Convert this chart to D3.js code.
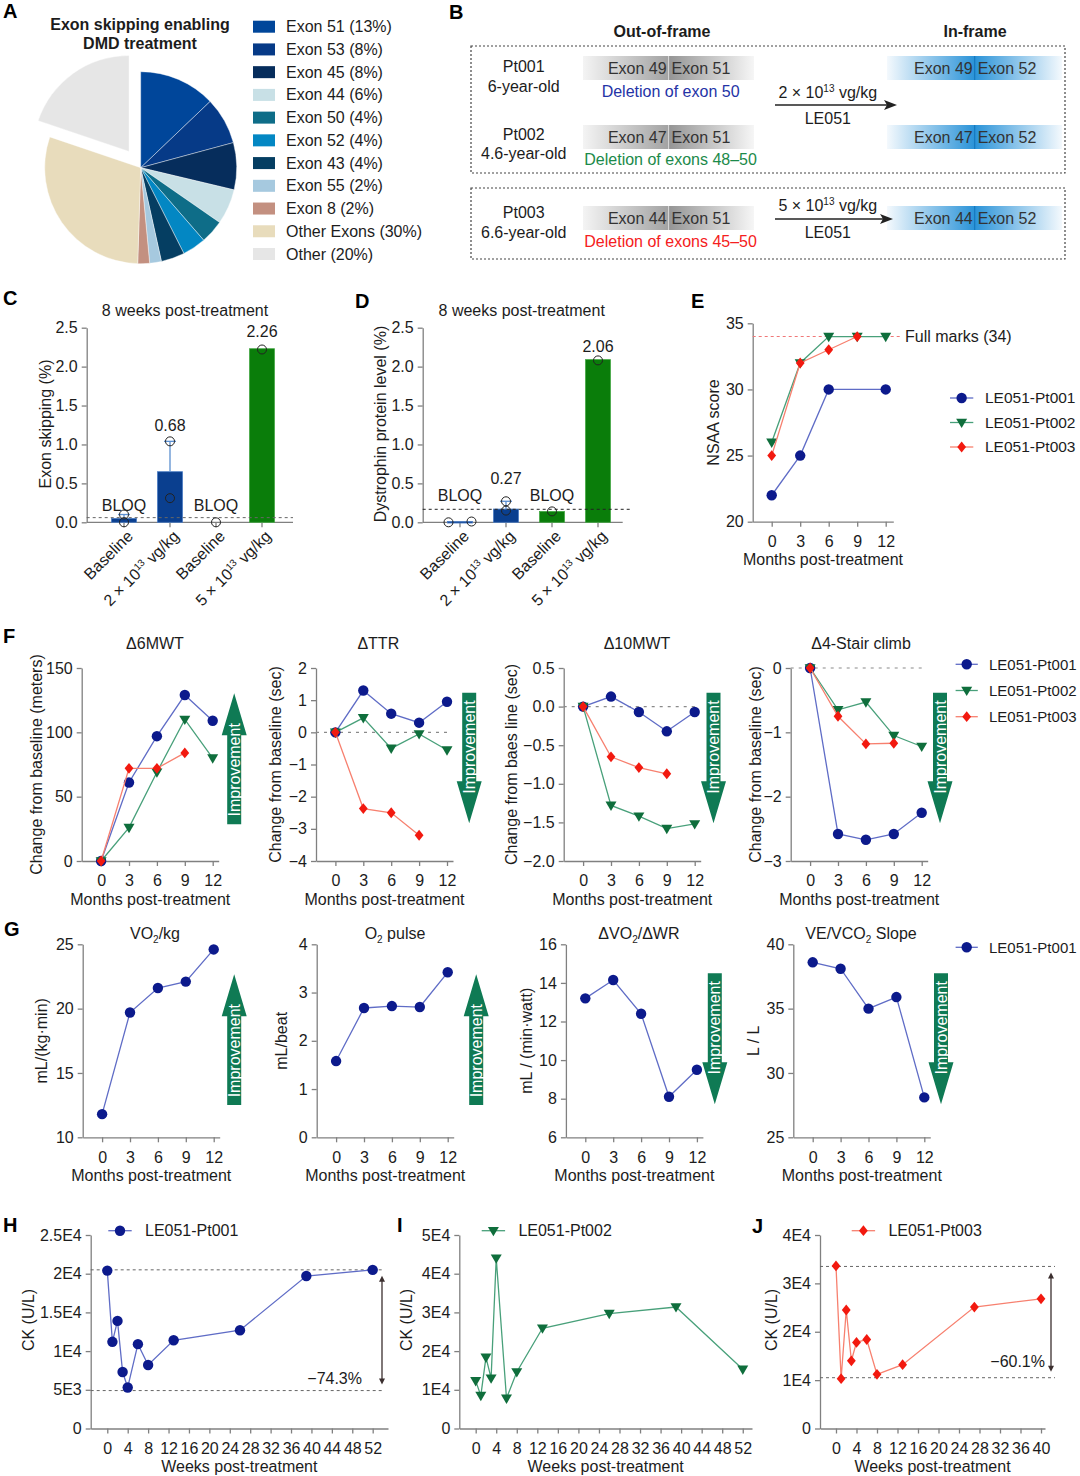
<!DOCTYPE html>
<html>
<head>
<meta charset="utf-8">
<script src="https://cdn.jsdelivr.net/npm/d3@7"></script>
<style>
  body { margin: 0; background: #fff; }
  svg { display: block; font-family: "Liberation Sans", Arial, Helvetica, sans-serif; }
</style>
</head>
<body>
<svg id="fig" width="1080" height="1476"></svg>
<script>
// ---------------- data ----------------
const pieLabels = ['Exon 51 (13%)', 'Exon 53 (8%)', 'Exon 45 (8%)', 'Exon 44 (6%)', 'Exon 50 (4%)',
  'Exon 52 (4%)', 'Exon 43 (4%)', 'Exon 55 (2%)', 'Exon 8 (2%)', 'Other Exons (30%)', 'Other (20%)'];
const pieValues = [13, 8, 8, 6, 4, 4, 4, 2, 2, 30, 20];

const patientIds = ['Pt001', 'Pt002', 'Pt003'];
const patientAges = ['6-year-old', '4.6-year-old', '6.6-year-old'];
const outFrameExons = [['Exon 49', 'Exon 51'], ['Exon 47', 'Exon 51'], ['Exon 44', 'Exon 51']];
const inFrameExons = [['Exon 49', 'Exon 52'], ['Exon 47', 'Exon 52'], ['Exon 44', 'Exon 52']];
const deletions = ['Deletion of exon 50', 'Deletion of exons 48–50', 'Deletion of exons 45–50'];
const doseCoef = ['2', '5'];

const barGroups = ['Baseline', '2', 'Baseline', '5'];
const skipBars = [0.05, 0.65, null, 2.23];
const skipDots = [[0.10, 0.0], [1.04, 0.31], [0.0], [2.22]];
const skipText = ['BLOQ', '0.68', 'BLOQ', '2.26'];
const skipLloq = 0.06;
const dysBars = [0.01, 0.17, 0.14, 2.09];
const dysDots = [[0.0, 0.01], [0.27, 0.15], [0.14], [2.08]];
const dysText = ['BLOQ', '0.27', 'BLOQ', '2.06'];
const dysLloq = 0.167;

const patients = ['LE051-Pt001', 'LE051-Pt002', 'LE051-Pt003'];
const months = [0, 3, 6, 9, 12];
const nsaa001 = [22, 25, 30, null, 30];
const nsaa002 = [26, 32, 34, 34, 34];
const nsaa003 = [25, 32, 33, 34, null];
const nsaaFull = 34;

const mwt6_001 = [0, 61, 97, 129, 109];
const mwt6_002 = [0, 26, 69, 110, 80];
const mwt6_003 = [0, 72, 72, 84, null];
const ttr001 = [0, 1.3, 0.58, 0.3, 0.95];
const ttr002 = [0, 0.45, -0.5, -0.05, -0.55];
const ttr003 = [0, -2.37, -2.5, -3.2, null];
const mwt10_001 = [0, 0.13, -0.07, -0.32, -0.07];
const mwt10_002 = [0, -1.28, -1.42, -1.58, -1.52];
const mwt10_003 = [0, -0.65, -0.79, -0.87, null];
const stair001 = [0, -2.58, -2.67, -2.58, -2.25];
const stair002 = [0, -0.65, -0.53, -1.05, -1.22];
const stair003 = [0, -0.75, -1.18, -1.17, null];

const vo2kg = [11.8, 19.7, 21.6, 22.1, 24.6];
const o2pulse = [1.58, 2.68, 2.72, 2.7, 3.42];
const vo2wr = [13.2, 14.15, 12.4, 8.1, 9.5];
const vevco2 = [38.6, 38.1, 35.0, 35.9, 28.1];

const ckWeeks001 = [0, 1, 2, 3, 4, 6, 8, 13, 26, 39, 52];
const ck001 = [20400, 11200, 13900, 7300, 5300, 10900, 8200, 11400, 12700, 19700, 20500];
const ckWeeks002 = [0, 1, 2, 3, 4, 6, 8, 13, 26, 39, 52];
const ck002 = [12300, 8500, 18400, 13000, 44000, 7800, 14600, 25900, 29700, 31400, 15300];
const ckWeeks003 = [0, 1, 2, 3, 4, 6, 8, 13, 27, 40];
const ck003 = [33600, 10300, 24500, 14000, 17800, 18400, 11200, 13200, 25100, 26800];
const ckRange001 = [20500, 4900];
const ckRange003 = [33500, 10500];
const ckDrop = ['−74.3%', '−60.1%'];

const weekTicks52 = d3.range(0, 53, 4);
const weekTicks40 = d3.range(0, 41, 4);
const ckTicksH = [0, 5000, 10000, 15000, 20000, 25000];
const ckLabelsH = ['0', '5E3', '1E4', '1.5E4', '2E4', '2.5E4'];
const ckTicksI = [0, 10000, 20000, 30000, 40000, 50000];
const ckLabelsI = ['0', '1E4', '2E4', '3E4', '4E4', '5E4'];
const ckTicksJ = [0, 10000, 20000, 30000, 40000];
const ckLabelsJ = ['0', '1E4', '2E4', '3E4', '4E4'];

// ---------------- styles ----------------
const INK = '#1c1c1c';
const AXIS = '#808080';
const ARROW_GREEN = '#0f7a54';
const pieColors = ['#00469a', '#063a87', '#062d5c', '#c8e0e6', '#0e6d88', '#0387c3',
  '#053e62', '#a6c9df', '#c39080', '#e8dcbc', '#e6e6e6'];
const ptStyles = [
  { marker: '#0c1a8c', line: '#5f6cc6', shape: 'circle' },
  { marker: '#0f6e3c', line: '#48a07a', shape: 'tri' },
  { marker: '#f2190f', line: '#f7806f', shape: 'diamond' }
];

const svg = d3.select('#fig');
svg.append('rect').attr('width', 1080).attr('height', 1476).attr('fill', '#fff');

// text with optional sub / superscript pieces
function rich(g, x, y, segs, o = {}) {
  const size = o.size || 16;
  const t = g.append('text').attr('x', x).attr('y', y)
    .attr('text-anchor', o.anchor || 'middle')
    .attr('font-size', size).attr('fill', o.fill || INK);
  if (o.rotate != null) t.attr('transform', `rotate(${o.rotate},${x},${y})`);
  if (o.bold) t.attr('font-weight', 'bold');
  let prev = 0;
  segs.forEach((s, i) => {
    const seg = typeof s === 'string' ? { t: s } : s;
    const want = seg.sub ? 4 : seg.sup ? -6 : 0;
    const base = i === 0 ? (o.baseline ? 0 : size * 0.35) : 0;
    t.append('tspan').attr('dy', base + want - prev)
      .attr('font-size', seg.sub || seg.sup ? 10 : null).text(seg.t);
    prev = want;
  });
  return t;
}

function markerPath(shape) {
  if (shape === 'circle') return d3.symbol(d3.symbolCircle, Math.PI * 5.2 * 5.2)();
  if (shape === 'tri') return 'M-5.5,-3.8L5.5,-3.8L0,5.6Z';
  return 'M0,-5.4L4.4,0L0,5.4L-4.4,0Z';
}

function styleAxis(sel) {
  sel.attr('font-size', 16).attr('font-family', null).attr('color', AXIS);
  sel.selectAll('text').attr('fill', INK);
  sel.selectAll('.domain, .tick line').attr('stroke-width', 1.3);
}

function drawSeries(g, x, y, xs, vals, st) {
  const pts = xs.map((m, i) => [m, vals[i]]).filter(d => d[1] != null);
  g.append('path').datum(pts)
    .attr('d', d3.line().x(d => x(d[0])).y(d => y(d[1])))
    .attr('fill', 'none').attr('stroke', st.line).attr('stroke-width', 1.3);
  g.selectAll(null).data(pts).join('path')
    .attr('transform', d => `translate(${x(d[0])},${y(d[1])})`)
    .attr('d', markerPath(st.shape)).attr('fill', st.marker);
}

function legendEntry(g, x1, x2, y, tx, st, label, size) {
  g.append('line').attr('x1', x1).attr('x2', x2).attr('y1', y).attr('y2', y)
    .attr('stroke', st.line).attr('stroke-width', 1.3);
  g.append('path').attr('transform', `translate(${(x1 + x2) / 2},${y})`)
    .attr('d', markerPath(st.shape)).attr('fill', st.marker);
  rich(g, tx, y, [label], { anchor: 'start', size: size || 16 });
}

function improveArrow(cx, yTail, yTip) {
  const dir = yTip < yTail ? -1 : 1;
  const headLen = 42, sw = 7, hw = 12.5;
  const yBase = yTip - dir * headLen;
  const d = `M${cx - sw},${yTail}L${cx - sw},${yBase}L${cx - hw},${yBase}L${cx},${yTip}` +
    `L${cx + hw},${yBase}L${cx + sw},${yBase}L${cx + sw},${yTail}Z`;
  svg.append('path').attr('d', d).attr('fill', ARROW_GREEN);
  const cy = (yTail + yTip) / 2 - dir * 11;
  rich(svg, cx, cy, ['Improvement'], { rotate: -90, fill: '#fff' });
}

function linePanel(p) {
  const g = svg.append('g');
  const x = d3.scaleLinear().domain(p.xDomain).range([p.left, p.right]);
  const y = d3.scaleLinear().domain(p.yDomain).range([p.bottom, p.top]);
  const ya = d3.axisLeft(y).tickValues(p.yTicks).tickSize(5).tickPadding(4).tickSizeOuter(0)
    .tickFormat(p.yFormat || d3.format('d'));
  const xa = d3.axisBottom(x).tickValues(p.xTicks).tickSize(5).tickPadding(9).tickSizeOuter(0)
    .tickFormat(d3.format('d'));
  styleAxis(g.append('g').attr('transform', `translate(${p.left},0)`).call(ya));
  styleAxis(g.append('g').attr('transform', `translate(0,${p.bottom})`).call(xa));
  if (p.zero) {
    g.append('line').attr('x1', p.left).attr('x2', p.right - 3).attr('y1', y(0)).attr('y2', y(0))
      .attr('stroke', '#8a8a8a').attr('stroke-width', 1.2).attr('stroke-dasharray', '3,5');
  }
  p.series.forEach(s => drawSeries(g, x, y, s.xs, s.vals, s.st));
  if (p.title) rich(g, p.titleX, p.titleY, p.title);
  rich(g, (p.left + p.right) / 2, p.bottom + 38, [p.xTitle || 'Months post-treatment']);
  rich(g, p.ylabelX, p.ylabelY || (p.top + p.bottom) / 2, [p.ylabel], { rotate: -90 });
  return { g, x, y };
}

// ---------------- panel letters ----------------
[['A', 3, 18.3], ['B', 449, 19.3], ['C', 3, 305], ['D', 355, 308], ['E', 691, 308],
 ['F', 3, 643], ['G', 4, 935.7], ['H', 3, 1231.7], ['I', 397, 1231.7], ['J', 752, 1232.7]]
  .forEach(([s, x, y]) => rich(svg, x, y, [s], { anchor: 'start', bold: true, size: 20, baseline: true, fill: '#000' }));

// ---------------- A: pie ----------------
{
  const g = svg.append('g');
  rich(g, 140, 24, ['Exon skipping enabling'], { bold: true });
  rich(g, 140, 43, ['DMD treatment'], { bold: true });
  const pg = g.append('g').attr('transform', 'translate(140.7,167.7)');
  const arcs = d3.pie().sort(null).value(d => d)(pieValues);
  const arc = d3.arc().innerRadius(0).outerRadius(96);
  pg.selectAll('path').data(arcs).join('path')
    .attr('d', arc)
    .attr('fill', (d, i) => pieColors[i])
    .attr('stroke', '#fff').attr('stroke-width', 0.4)
    .attr('transform', (d, i) => {
      if (i !== pieValues.length - 1) return null;
      const mid = (d.startAngle + d.endAngle) / 2;
      return `translate(${20 * Math.sin(mid)},${-20 * Math.cos(mid)})`;
    });
  const lg = g.append('g');
  pieLabels.forEach((lab, i) => {
    const yy = 26.7 + i * 22.73;
    lg.append('rect').attr('x', 253).attr('y', yy - 6).attr('width', 22).attr('height', 12).attr('fill', pieColors[i]);
    rich(lg, 286, yy, [lab], { anchor: 'start' });
  });
}

// ---------------- B: schematic ----------------
{
  const g = svg.append('g');
  const defs = svg.append('defs');
  const grad = (id, c0, c1) => {
    const lg = defs.append('linearGradient').attr('id', id).attr('x1', 0).attr('x2', 1).attr('y1', 0).attr('y2', 0);
    lg.append('stop').attr('offset', 0).attr('stop-color', c0);
    lg.append('stop').attr('offset', 1).attr('stop-color', c1);
  };
  grad('greyL', '#f4f4f4', '#a2a2a2');
  grad('greyR', '#949494', '#f6f6f6');
  grad('blueL', '#f4f9fd', '#2a93d8');
  grad('blueR', '#2a93d8', '#f4f9fd');

  rich(g, 662, 31.7, ['Out-of-frame'], { bold: true });
  rich(g, 975, 31.7, ['In-frame'], { bold: true });
  g.append('rect').attr('x', 471).attr('y', 46).attr('width', 594).attr('height', 127)
    .attr('fill', 'none').attr('stroke', '#444').attr('stroke-width', 1.2).attr('stroke-dasharray', '2,2');
  g.append('rect').attr('x', 471).attr('y', 188).attr('width', 594).attr('height', 71)
    .attr('fill', 'none').attr('stroke', '#444').attr('stroke-width', 1.2).attr('stroke-dasharray', '2,2');

  const rowY = [68, 137, 218];
  const ptY = [[66, 86], [134, 153.3], [212.3, 232.3]];
  const delY = [91, 159.3, 241];
  const delColors = ['#2433a6', '#1b8a4a', '#f52020'];
  const greyBox = { l: 583, m: 668.6, r: 754 };
  const blueBox = { l: 887, m: 974.7, r: 1062 };

  rowY.forEach((cy, i) => {
    rich(g, 523.7, ptY[i][0], [patientIds[i]]);
    rich(g, 523.7, ptY[i][1], [patientAges[i]]);
    [[greyBox, 'greyL', 'greyR', '#d8d8d8', outFrameExons[i]], [blueBox, 'blueL', 'blueR', '#0a6fb8', inFrameExons[i]]]
      .forEach(([b, gl, gr, div, labs]) => {
        g.append('rect').attr('x', b.l).attr('y', cy - 12).attr('width', b.m - b.l).attr('height', 24).attr('fill', `url(#${gl})`);
        g.append('rect').attr('x', b.m).attr('y', cy - 12).attr('width', b.r - b.m).attr('height', 24).attr('fill', `url(#${gr})`);
        g.append('line').attr('x1', b.m).attr('x2', b.m).attr('y1', cy - 12).attr('y2', cy + 12).attr('stroke', div).attr('stroke-width', 1);
        rich(g, b.m - 2, cy, [labs[0]], { anchor: 'end', fill: '#333' });
        rich(g, b.m + 3, cy, [labs[1]], { anchor: 'start', fill: '#333' });
      });
    rich(g, 670.6, delY[i], [deletions[i]], { fill: delColors[i] });
  });

  const arrows = [{ y: 105, x2: 897, ty: 92, ly: 118, dose: doseCoef[0] },
                  { y: 219, x2: 893, ty: 205, ly: 232, dose: doseCoef[1] }];
  arrows.forEach(a => {
    g.append('line').attr('x1', 775).attr('x2', a.x2 - 8).attr('y1', a.y).attr('y2', a.y).attr('stroke', '#222').attr('stroke-width', 1.4);
    g.append('path').attr('d', `M${a.x2},${a.y}L${a.x2 - 13},${a.y - 5}L${a.x2 - 10},${a.y}L${a.x2 - 13},${a.y + 5}Z`).attr('fill', '#222');
    rich(g, 827.8, a.ty, [`${a.dose} × 10`, { t: '13', sup: true }, ' vg/kg']);
    rich(g, 827.8, a.ly, ['LE051']);
  });
}

// ---------------- C / D: bars ----------------
function barPanel(c) {
  const g = svg.append('g');
  const y = d3.scaleLinear().domain([0, 2.5]).range([522.3, 327.7]);
  const x = d3.scalePoint().domain(d3.range(barGroups.length)).range([c.left + 37.3, c.left + 175.3]);
  const ya = d3.axisLeft(y).tickValues([0, 0.5, 1, 1.5, 2, 2.5]).tickFormat(d3.format('.1f'))
    .tickSize(5).tickPadding(4).tickSizeOuter(0);
  styleAxis(g.append('g').attr('transform', `translate(${c.left},0)`).call(ya));
  const xg = g.append('g').attr('color', AXIS);
  xg.append('line').attr('x1', c.left).attr('x2', c.left + c.axisLen).attr('y1', y(0)).attr('y2', y(0))
    .attr('stroke', AXIS).attr('stroke-width', 1.3);
  xg.selectAll(null).data(barGroups).join('line')
    .attr('x1', (d, i) => x(i)).attr('x2', (d, i) => x(i)).attr('y1', y(0)).attr('y2', y(0) + 5)
    .attr('stroke', AXIS).attr('stroke-width', 1.3);

  const bw = 25;
  const fills = ['#0a3f8f', '#0a3f8f', '#0a7d0a', '#0a7d0a'];
  const edges = ['#4a7cc4', '#4a7cc4', '#45a845', '#45a845'];
  c.bars.forEach((v, i) => {
    if (v == null) return;
    g.append('rect').attr('x', x(i) - bw / 2).attr('y', y(v)).attr('width', bw)
      .attr('height', Math.max(y(0) - y(v), 1.5)).attr('fill', fills[i])
      .attr('stroke', edges[i]).attr('stroke-width', 0.8);
    const dots = c.dots[i];
    if (dots.length > 1) {
      const top = d3.max(dots);
      if (top > v) {
        g.append('line').attr('x1', x(i)).attr('x2', x(i)).attr('y1', y(v)).attr('y2', y(top))
          .attr('stroke', '#5b8fd0').attr('stroke-width', 1.3);
        g.append('line').attr('x1', x(i) - 6).attr('x2', x(i) + 6).attr('y1', y(top)).attr('y2', y(top))
          .attr('stroke', '#5b8fd0').attr('stroke-width', 1.3);
      }
    }
  });
  // LLOQ line
  g.append('line').attr('x1', c.left).attr('x2', c.left + c.lloqLen).attr('y1', y(c.lloq)).attr('y2', y(c.lloq))
    .attr('stroke', c.lloqColor).attr('stroke-width', 1).attr('stroke-dasharray', '3,3');
  c.dots.forEach((ds, i) => ds.forEach((v, j) => {
    g.append('circle').attr('cx', x(i) + c.jitter[i][j]).attr('cy', y(v)).attr('r', 4.5)
      .attr('fill', 'none').attr('stroke', '#222').attr('stroke-width', 1);
  }));
  c.labels.forEach((s, i) => rich(g, x(i), y(c.labelAt[i]), [s]));
  barGroups.forEach((s, i) => {
    const segs = s === 'Baseline' ? ['Baseline'] : [`${s} × 10`, { t: '13', sup: true }, ' vg/kg'];
    rich(g, x(i) + 6, y(0) + 11, segs, { anchor: 'end', rotate: -45 });
  });
  rich(g, c.titleX, 310.5, ['8 weeks post-treatment']);
  rich(g, c.ylabelX, 424, [c.ylabel], { rotate: -90 });
}

barPanel({
  left: 86.7, axisLen: 206.3, lloqLen: 206.3, lloq: skipLloq, lloqColor: '#666',
  bars: skipBars, dots: skipDots, labels: skipText, labelAt: [0.22, 1.25, 0.22, 2.45],
  jitter: [[0, 0], [0, 0], [0], [0]], titleX: 185, ylabel: 'Exon skipping (%)', ylabelX: 45
});
barPanel({
  left: 422.7, axisLen: 200, lloqLen: 208, lloq: dysLloq, lloqColor: '#222',
  bars: dysBars, dots: dysDots, labels: dysText, labelAt: [0.35, 0.57, 0.35, 2.26],
  jitter: [[-11.5, 11.5], [0, 0], [0], [0]], titleX: 521.7, ylabel: 'Dystrophin protein level (%)', ylabelX: 380
});

// ---------------- E: NSAA ----------------
{
  const e = linePanel({
    left: 752.7, right: 893.3, top: 323.3, bottom: 521.7, xDomain: [-2, 12.8], xTicks: months,
    yDomain: [20, 35], yTicks: [20, 25, 30, 35], ylabel: 'NSAA score', ylabelX: 713.3,
    series: []
  });
  e.g.append('line').attr('x1', 752.7).attr('x2', 901.7).attr('y1', e.y(nsaaFull)).attr('y2', e.y(nsaaFull))
    .attr('stroke', '#f07878').attr('stroke-width', 1.1).attr('stroke-dasharray', '3,3');
  rich(e.g, 905, e.y(nsaaFull), [`Full marks (${nsaaFull})`], { anchor: 'start' });
  [nsaa001, nsaa002, nsaa003].forEach((v, i) => drawSeries(e.g, e.x, e.y, months, v, ptStyles[i]));
  patients.forEach((p, i) => legendEntry(svg, 950, 973.3, 398 + i * 24.5, 985, ptStyles[i], p, 15.5));
}

// ---------------- F: motor function ----------------
const fPanels = [
  { left: 81.7, title: ['Δ6MWT'], titleX: 155, yDomain: [0, 150], yTicks: [0, 50, 100, 150],
    ylabel: 'Change from baseline (meters)', ylabelX: 36.7, data: [mwt6_001, mwt6_002, mwt6_003], arrowX: 234.2, up: true },
  { left: 316, title: ['ΔTTR'], titleX: 378.3, yDomain: [-4, 2], yTicks: d3.range(-4, 3), zero: true,
    ylabel: 'Change from baseline (sec)', ylabelX: 275, data: [ttr001, ttr002, ttr003], arrowX: 469.2, up: false },
  { left: 563.7, title: ['Δ10MWT'], titleX: 637, yDomain: [-2, 0.5], yTicks: [-2, -1.5, -1, -0.5, 0, 0.5], zero: true,
    yFormat: d3.format('.1f'), ylabel: 'Change from baes line (sec)', ylabelX: 511,
    data: [mwt10_001, mwt10_002, mwt10_003], arrowX: 713.5, up: false },
  { left: 790.7, title: ['Δ4-Stair climb'], titleX: 861, yDomain: [-3, 0], yTicks: [-3, -2, -1, 0], zero: true,
    ylabel: 'Change from baseline (sec)', ylabelX: 755.6, data: [stair001, stair002, stair003], arrowX: 940, up: false }
];
fPanels.forEach(p => {
  linePanel(Object.assign({}, p, {
    right: p.left + 137, top: 668, bottom: 861, xDomain: [-2.086, 12.645], xTicks: months, titleY: 643.3,
    series: p.data.map((v, i) => ({ xs: months, vals: v, st: ptStyles[i] }))
  }));
  if (p.up) improveArrow(p.arrowX, 824.3, 693.3); else improveArrow(p.arrowX, 692.7, 823.3);
});
patients.forEach((p, i) => legendEntry(svg, 955.6, 977.8, 664.3 + i * 26.2, 989, ptStyles[i], p, 15));

// ---------------- G: cardiopulmonary ----------------
const gPanels = [
  { left: 82.7, title: ['VO', { t: '2', sub: true }, '/kg'], titleX: 155, yDomain: [10, 25], yTicks: [10, 15, 20, 25],
    ylabel: 'mL/(kg·min)', ylabelX: 41.7, vals: vo2kg, arrowX: 234.2, up: true },
  { left: 316.7, title: ['O', { t: '2', sub: true }, ' pulse'], titleX: 395, yDomain: [0, 4], yTicks: [0, 1, 2, 3, 4],
    ylabel: 'mL/beat', ylabelX: 281.7, vals: o2pulse, arrowX: 476.2, up: true },
  { left: 565.9, title: ['ΔVO', { t: '2', sub: true }, '/ΔWR'], titleX: 638.9, yDomain: [6, 16], yTicks: [6, 8, 10, 12, 14, 16],
    ylabel: 'mL / (min·watt)', ylabelX: 526, vals: vo2wr, arrowX: 714.8, up: false },
  { left: 793.3, title: ['VE/VCO', { t: '2', sub: true }, ' Slope'], titleX: 861, yDomain: [25, 40], yTicks: [25, 30, 35, 40],
    ylabel: 'L / L', ylabelX: 753.7, vals: vevco2, arrowX: 941, up: false }
];
gPanels.forEach(p => {
  linePanel(Object.assign({}, p, {
    right: p.left + 137, top: 944.3, bottom: 1137.3, xDomain: [-2.086, 12.645], xTicks: months, titleY: 933.3,
    series: [{ xs: months, vals: p.vals, st: ptStyles[0] }]
  }));
  if (p.up) improveArrow(p.arrowX, 1105, 974.3); else improveArrow(p.arrowX, 973.3, 1104.3);
});
legendEntry(svg, 955.6, 977.8, 947.3, 989, ptStyles[0], patients[0], 15);

// ---------------- H / I / J: CK ----------------
function ckPanel(c) {
  const fmt = d => c.labels[c.ticks.indexOf(d)];
  const r = linePanel({
    left: c.left, right: c.right, top: 1235, bottom: 1428.5, xDomain: c.xDomain, xTicks: c.xTicks,
    yDomain: [0, d3.max(c.ticks)], yTicks: c.ticks, yFormat: fmt, xTitle: 'Weeks post-treatment',
    ylabel: 'CK (U/L)', ylabelX: c.ylabelX, ylabelY: 1320, series: []
  });
  if (c.range) {
    c.range.forEach(v => r.g.append('line').attr('x1', c.left).attr('x2', c.dashEnd).attr('y1', r.y(v)).attr('y2', r.y(v))
      .attr('stroke', '#666').attr('stroke-width', 1).attr('stroke-dasharray', '3,3'));
    const y1 = r.y(c.range[0]) + 6, y2 = r.y(c.range[1]) - 6, ax = c.arrowX;
    r.g.append('line').attr('x1', ax).attr('x2', ax).attr('y1', y1 + 3).attr('y2', y2 - 3).attr('stroke', '#3b2f2f').attr('stroke-width', 1.3);
    r.g.append('path').attr('d', `M${ax},${y1}L${ax - 3},${y1 + 6}L${ax + 3},${y1 + 6}Z`).attr('fill', '#3b2f2f');
    r.g.append('path').attr('d', `M${ax},${y2}L${ax - 3},${y2 - 6}L${ax + 3},${y2 - 6}Z`).attr('fill', '#3b2f2f');
    rich(r.g, c.pctX, c.pctY, [c.pct], { anchor: 'end' });
  }
  drawSeries(r.g, r.x, r.y, c.weeks, c.vals, c.st);
  legendEntry(svg, c.legX, c.legX + 23.4, 1230.7, c.legX + 36.7, c.st, c.name);
}
ckPanel({ left: 90.7, right: 388, xDomain: [-3.25, 55.0], xTicks: weekTicks52, ticks: ckTicksH, labels: ckLabelsH,
  ylabelX: 28.3, weeks: ckWeeks001, vals: ck001, st: ptStyles[0], name: patients[0], legX: 108.3,
  range: ckRange001, dashEnd: 384, arrowX: 382, pct: ckDrop[0], pctX: 362, pctY: 1378.3 });
ckPanel({ left: 459.3, right: 752, xDomain: [-3.19, 53.8], xTicks: weekTicks52, ticks: ckTicksI, labels: ckLabelsI,
  ylabelX: 406.7, weeks: ckWeeks002, vals: ck002, st: ptStyles[1], name: patients[1], legX: 481.7 });
ckPanel({ left: 820, right: 1045, xDomain: [-3.12, 40.78], xTicks: weekTicks40, ticks: ckTicksJ, labels: ckLabelsJ,
  ylabelX: 771.7, weeks: ckWeeks003, vals: ck003, st: ptStyles[2], name: patients[2], legX: 851.7,
  range: ckRange003, dashEnd: 1055, arrowX: 1051, pct: ckDrop[1], pctX: 1045, pctY: 1361.7 });
</script>
</body>
</html>
